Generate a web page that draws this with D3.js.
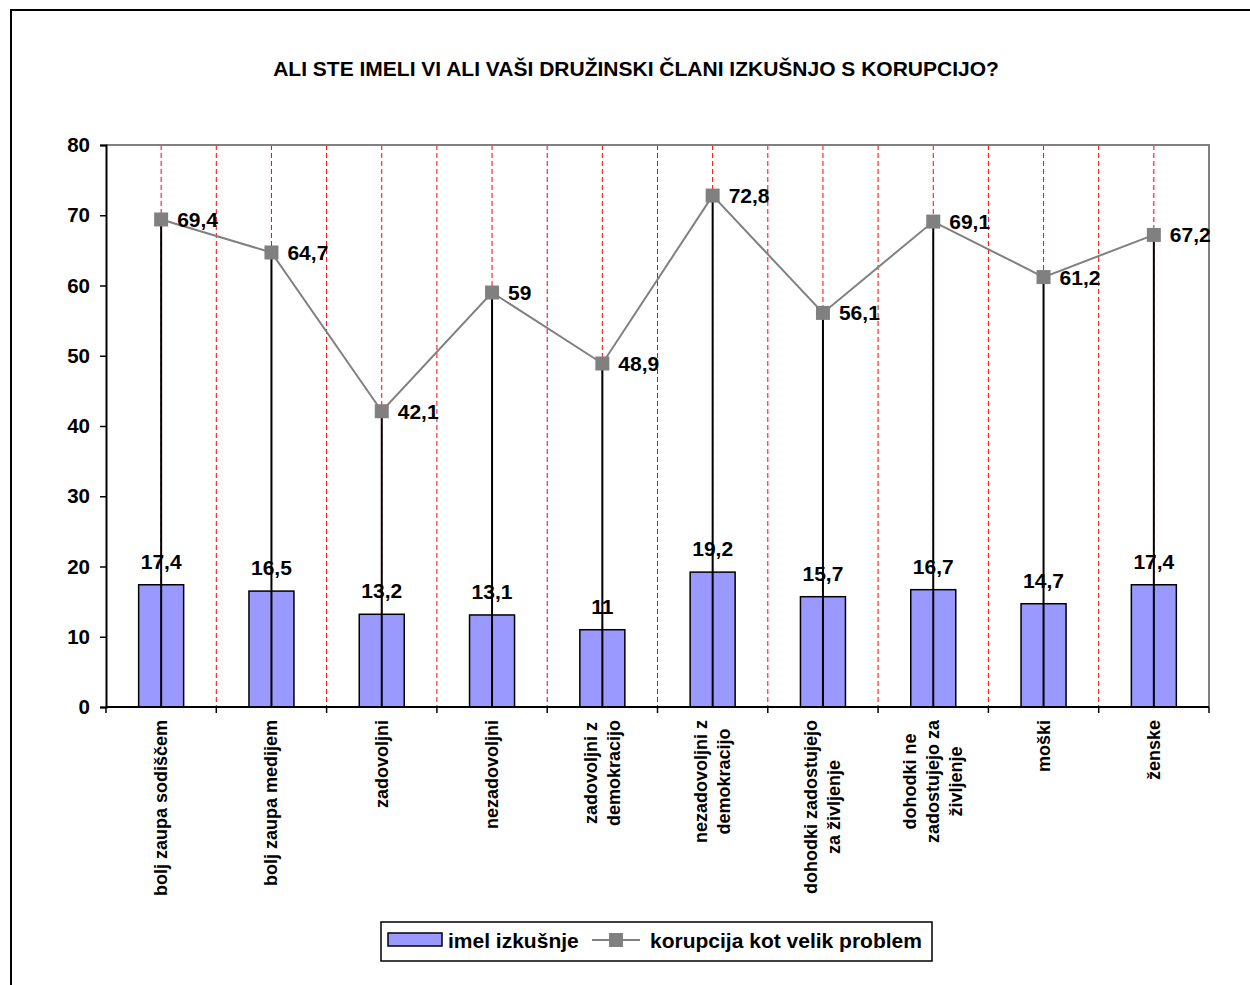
<!DOCTYPE html>
<html><head><meta charset="utf-8">
<script src="https://cdn.jsdelivr.net/npm/d3@7"></script>
<style>body{margin:0;background:#fff}svg{display:block}text{font-family:"Liberation Sans",Arial,sans-serif;font-weight:bold}</style>
</head><body>
<svg id="c" width="1250" height="985"></svg>
<script>
const title = "ALI STE IMELI VI ALI VAŠI DRUŽINSKI ČLANI IZKUŠNJO S KORUPCIJO?";
const categories = [
  ["bolj zaupa sodiščem"],
  ["bolj zaupa medijem"],
  ["zadovoljni"],
  ["nezadovoljni"],
  ["zadovoljni z","demokracijo"],
  ["nezadovoljni z","demokracijo"],
  ["dohodki zadostujejo","za življenje"],
  ["dohodki ne","zadostujejo za","življenje"],
  ["moški"],
  ["ženske"]
];
const barValues = [17.4,16.5,13.2,13.1,11,19.2,15.7,16.7,14.7,17.4];
const lineValues = [69.4,64.7,42.1,59,48.9,72.8,56.1,69.1,61.2,67.2];
const yTicks = [0,10,20,30,40,50,60,70,80];
const seriesNames = ["imel izkušnje","korupcija kot velik problem"];

const svg = d3.select("#c");
const L = 106, R = 1209, T = 145, B = 707;
const idx = d3.range(categories.length);
const x = d3.scaleBand().domain(idx).range([L,R]).padding(0);
const y = d3.scaleLinear().domain([0,80]).range([B,T]);
const bw = x.bandwidth();
const cx = i => x(i) + bw/2;
const fmt = v => String(v).replace(".", ",");

// outer border
svg.append("rect").attr("x",11).attr("y",10).attr("width",1260).attr("height",1000)
  .attr("fill","none").attr("stroke","#000").attr("stroke-width",2);

// title
svg.append("text").attr("x",636).attr("y",76).attr("text-anchor","middle")
  .attr("font-size",21).text(title);

// dashed red gridlines at centers and boundaries
const gl = [];
idx.forEach(i => { if (i>0) gl.push(x(i)); gl.push(cx(i)); });
svg.append("g").selectAll("line").data(gl).join("line")
  .attr("x1",d=>d).attr("x2",d=>d).attr("y1",T).attr("y2",B)
  .attr("stroke","#ff0000").attr("stroke-width",1).attr("stroke-dasharray","5,3");

// plot border top/right grey
svg.append("path").attr("d",`M${L},${T}H${R}V${B}`).attr("fill","none")
  .attr("stroke","#808080").attr("stroke-width",2);

// bars
svg.append("g").selectAll("rect").data(barValues).join("rect")
  .attr("x",(d,i)=>cx(i)-22.5).attr("width",45)
  .attr("y",d=>y(d)).attr("height",d=>B-y(d))
  .attr("fill","#9999ff").attr("stroke","#000").attr("stroke-width",1.5);

// drop lines
svg.append("g").selectAll("line").data(lineValues).join("line")
  .attr("x1",(d,i)=>cx(i)).attr("x2",(d,i)=>cx(i)).attr("y1",B).attr("y2",d=>y(d))
  .attr("stroke","#000").attr("stroke-width",2);

// axes
const yAxis = svg.append("g").attr("transform",`translate(${L},0)`)
  .call(d3.axisLeft(y).tickValues(yTicks).tickSize(6).tickPadding(10));
yAxis.select(".domain").attr("stroke","#000").attr("stroke-width",2);
yAxis.selectAll(".tick line").attr("stroke","#000").attr("stroke-width",1.5);
yAxis.selectAll("text").attr("font-size",20.5).attr("font-family","Liberation Sans, Arial, sans-serif").attr("font-weight","bold").attr("fill","#000");

const bounds = d3.range(categories.length+1).map(i => L + i*bw);
svg.append("g").selectAll("line").data(bounds).join("line")
  .attr("x1",d=>d).attr("x2",d=>d).attr("y1",B).attr("y2",B+6)
  .attr("stroke","#000").attr("stroke-width",1.5);
svg.append("line").attr("x1",L).attr("x2",R).attr("y1",B).attr("y2",B)
  .attr("stroke","#000").attr("stroke-width",2);

// line series
const line = d3.line().x((d,i)=>cx(i)).y(d=>y(d));
svg.append("path").datum(lineValues).attr("d",line).attr("fill","none")
  .attr("stroke","#808080").attr("stroke-width",2);
svg.append("g").selectAll("rect").data(lineValues).join("rect")
  .attr("x",(d,i)=>cx(i)-7).attr("y",d=>y(d)-7).attr("width",14).attr("height",14)
  .attr("fill","#808080");

// line labels
svg.append("g").selectAll("text").data(lineValues).join("text")
  .attr("x",(d,i)=>cx(i)+16).attr("y",d=>y(d)+7.5)
  .attr("font-size",21).text(d=>fmt(d));

// bar labels
svg.append("g").selectAll("text").data(barValues).join("text")
  .attr("x",(d,i)=>cx(i)).attr("y",d=>y(d)-16).attr("text-anchor","middle")
  .attr("font-size",21).text(d=>fmt(d));

// category labels
const lh = 23;
categories.forEach((lines,i) => {
  const g = svg.append("g").attr("transform",`translate(${cx(i)},720) rotate(-90)`);
  const ts = lines.map((s,k) => g.append("text").attr("text-anchor","middle")
    .attr("font-size",18).attr("dominant-baseline","central")
    .attr("y",(k-(lines.length-1)/2)*lh).text(s));
  const maxLen = d3.max(ts, t => t.node().getComputedTextLength());
  ts.forEach(t => t.attr("x", -maxLen/2));
});

// legend
const lg = svg.append("g");
lg.append("rect").attr("x",381).attr("y",922).attr("width",551).attr("height",39)
  .attr("fill","#fff").attr("stroke","#000").attr("stroke-width",1.5);
lg.append("rect").attr("x",388).attr("y",933).attr("width",54).attr("height",13)
  .attr("fill","#9999ff").attr("stroke","#000").attr("stroke-width",1.5);
lg.append("text").attr("x",448).attr("y",948).attr("font-size",21).text(seriesNames[0]);
lg.append("line").attr("x1",592).attr("x2",640).attr("y1",940).attr("y2",940)
  .attr("stroke","#808080").attr("stroke-width",2);
lg.append("rect").attr("x",609).attr("y",933).attr("width",14).attr("height",14).attr("fill","#808080");
lg.append("text").attr("x",650).attr("y",948).attr("font-size",21).text(seriesNames[1]);
</script>
</body></html>
